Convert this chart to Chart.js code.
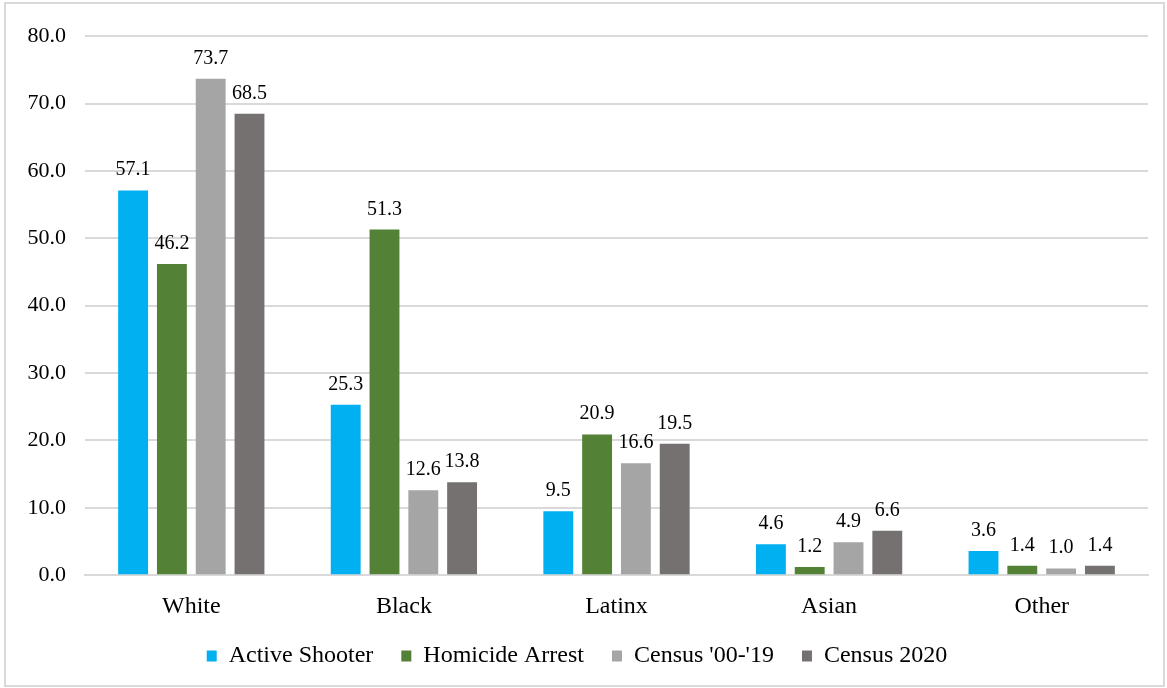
<!DOCTYPE html>
<html>
<head>
<meta charset="utf-8">
<script src="https://cdn.jsdelivr.net/npm/chart.js@4.4.0/dist/chart.umd.min.js"></script>
<style>
  html, body { margin: 0; padding: 0; background: #fff; }
  #frame {
    position: absolute; left: 4px; top: 2px;
    width: 1157px; height: 681px;
    border: 2px solid #d9d9d9;
  }
</style>
</head>
<body>
<div id="frame"><canvas id="chart" width="1157" height="681"></canvas></div>
<script>
const categories = ['White', 'Black', 'Latinx', 'Asian', 'Other'];
const activeShooter = [57.1, 25.3, 9.5, 4.6, 3.6];
const homicideArrest = [46.2, 51.3, 20.9, 1.2, 1.4];
const census0019 = [73.7, 12.6, 16.6, 4.9, 1.0];
const census2020 = [68.5, 13.8, 19.5, 6.6, 1.4];

const seriesNames = ['Active Shooter', 'Homicide Arrest', "Census '00-'19", 'Census 2020'];
const seriesColors = ['#00b0f0', '#538135', '#a5a5a5', '#767171'];

const serif = "'Liberation Serif', 'DejaVu Serif', serif";

// value labels above each bar
const barLabels = {
  id: 'barLabels',
  afterDatasetsDraw(chart) {
    const ctx = chart.ctx;
    ctx.save();
    ctx.font = '20px ' + serif;
    ctx.fillStyle = '#000';
    ctx.textAlign = 'center';
    ctx.textBaseline = 'alphabetic';
    chart.data.datasets.forEach((ds, i) => {
      chart.getDatasetMeta(i).data.forEach((bar, j) => {
        ctx.fillText(ds.data[j].toFixed(1), bar.x, bar.y - 15);
      });
    });
    ctx.restore();
  }
};

const dataSets = [activeShooter, homicideArrest, census0019, census2020].map((vals, i) => ({
  label: seriesNames[i],
  data: vals,
  backgroundColor: seriesColors[i],
  categoryPercentage: 0.73,
  barPercentage: 0.77
}));

new Chart(document.getElementById('chart'), {
  type: 'bar',
  data: { labels: categories, datasets: dataSets },
  plugins: [barLabels],
  options: {
    responsive: false,
    animation: false,
    layout: { padding: { top: 28, right: 15, left: 0, bottom: 7 } },
    plugins: {
      legend: {
        position: 'bottom',
        labels: {
          boxWidth: 10,
          boxHeight: 11,
          padding: 28,
          color: '#000',
          font: { family: serif, size: 24 }
        }
      },
      tooltip: { enabled: false }
    },
    scales: {
      x: {
        // legend padding is wide, so pull it up under the labels
        afterFit: axis => { axis.height -= 14; },
        grid: { display: false },
        border: { color: '#d9d9d9', width: 2 },
        ticks: { color: '#000', padding: 9, font: { family: serif, size: 24 } }
      },
      y: {
        min: 0,
        max: 80,
        afterFit: axis => { axis.width = 79; },
        border: { display: false },
        grid: { color: '#d9d9d9', lineWidth: 2, drawTicks: false },
        ticks: {
          stepSize: 10,
          padding: 19,
          color: '#000',
          font: { family: serif, size: 22 },
          callback: v => v.toFixed(1)
        }
      }
    }
  }
});
</script>
</body>
</html>
